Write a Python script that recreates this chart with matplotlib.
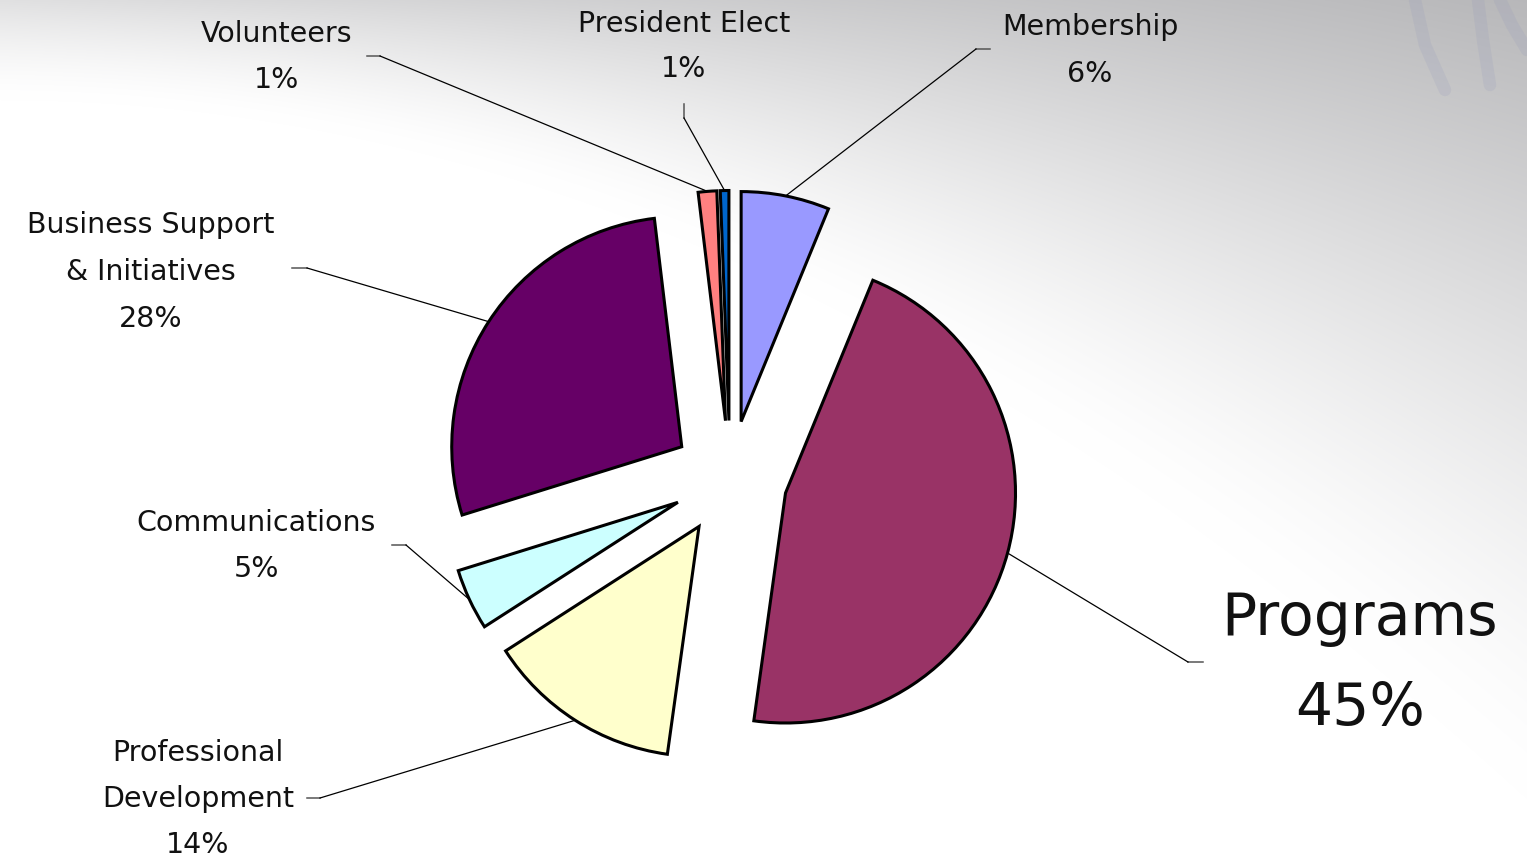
import numpy as np
import matplotlib
matplotlib.use('Agg')
import matplotlib.pyplot as plt

# ---- data ----
categories = ['Membership', 'Programs', 'Professional\nDevelopment', 'Communications',
              'Business Support\n& Initiatives', 'Volunteers', 'President Elect']
values = [6.2, 46.0, 13.7, 4.3, 27.9, 1.3, 0.6]
pct_labels = ['6%', '45%', '14%', '5%', '28%', '1%', '1%']
colors = ['#9999FF', '#993366', '#FFFFCC', '#CCFFFF', '#660066', '#FF8080', '#0066CC']

# ---- layout (pixel coordinates) ----
label_x = [1090, 1360, 198, 256, 151, 277, 684]
label_base = [35, 635, 761, 531, 233, 42, 32]
label_gap = [47, 90, 46, 46, 47, 46, 45]
label_size = [20.5, 42, 20.5, 20.5, 20.5, 20.5, 20.5]
stub_start = [(990, 49), (1203, 662), (307, 798), (392, 545), (292, 268), (367, 56), (684, 104)]
stub_end = [(976, 49), (1188, 662), (320, 798), (406, 545), (307, 268), (380, 56), (684, 118)]
pie_center = (730, 478)
pie_radius = 230
explode_frac = 0.25

W, H = 1527, 858
fig = plt.figure(figsize=(W / 100, H / 100), dpi=100)
ax = fig.add_axes([0, 0, 1, 1])

# background gradient
yy, xx = np.mgrid[0:H, 0:W].astype(float)
Hx = 100 + 0.0003 * xx ** 2
A = 0.12 + 0.16 * xx / W
shade = np.clip(1 - yy / Hx, 0, 1) ** 1.5
d = A * shade
img = np.dstack([1 - d, 1 - d, 1 - d * 0.97])
ax.imshow(img, extent=(0, W, H, 0), zorder=0, interpolation='bilinear')

# decorative streaks top right
for xs, ys in [((1415, 1425, 1445), (0, 45, 90)), ((1478, 1483, 1490), (0, 40, 85)),
               ((1500, 1512, 1527), (0, 25, 50))]:
    ax.plot(xs, ys, color='#8a90b8', lw=9, alpha=0.15, solid_capstyle='round', zorder=0.5)

wedges, _ = ax.pie(values, colors=colors, startangle=-90, counterclock=True,
                   explode=[explode_frac * pie_radius] * len(values), center=pie_center,
                   radius=pie_radius,
                   wedgeprops=dict(edgecolor='black', linewidth=2.2), frame=True)

for i, w in enumerate(wedges):
    w.set_zorder(2)
    tm = np.deg2rad((w.theta1 + w.theta2) / 2)
    cx, cy = w.center
    px, py = cx + w.r * np.cos(tm), cy + w.r * np.sin(tm)
    (sx, sy), (ex, ey) = stub_start[i], stub_end[i]
    ax.plot([sx, ex], [sy, ey], color='#555555', lw=1.1, zorder=1.5)
    ax.plot([ex, px], [ey, py], color='black', lw=0.9, zorder=1.5)
    lines = categories[i].split('\n') + [pct_labels[i]]
    for j, t in enumerate(lines):
        ax.text(label_x[i], label_base[i] + j * label_gap[i], t, ha='center', va='baseline',
                fontsize=label_size[i], color='#111111', family='DejaVu Sans', zorder=3)

ax.set_xlim(0, W)
ax.set_ylim(H, 0)
ax.set_aspect('equal')
ax.axis('off')
fig.savefig('out.png', dpi=100)
